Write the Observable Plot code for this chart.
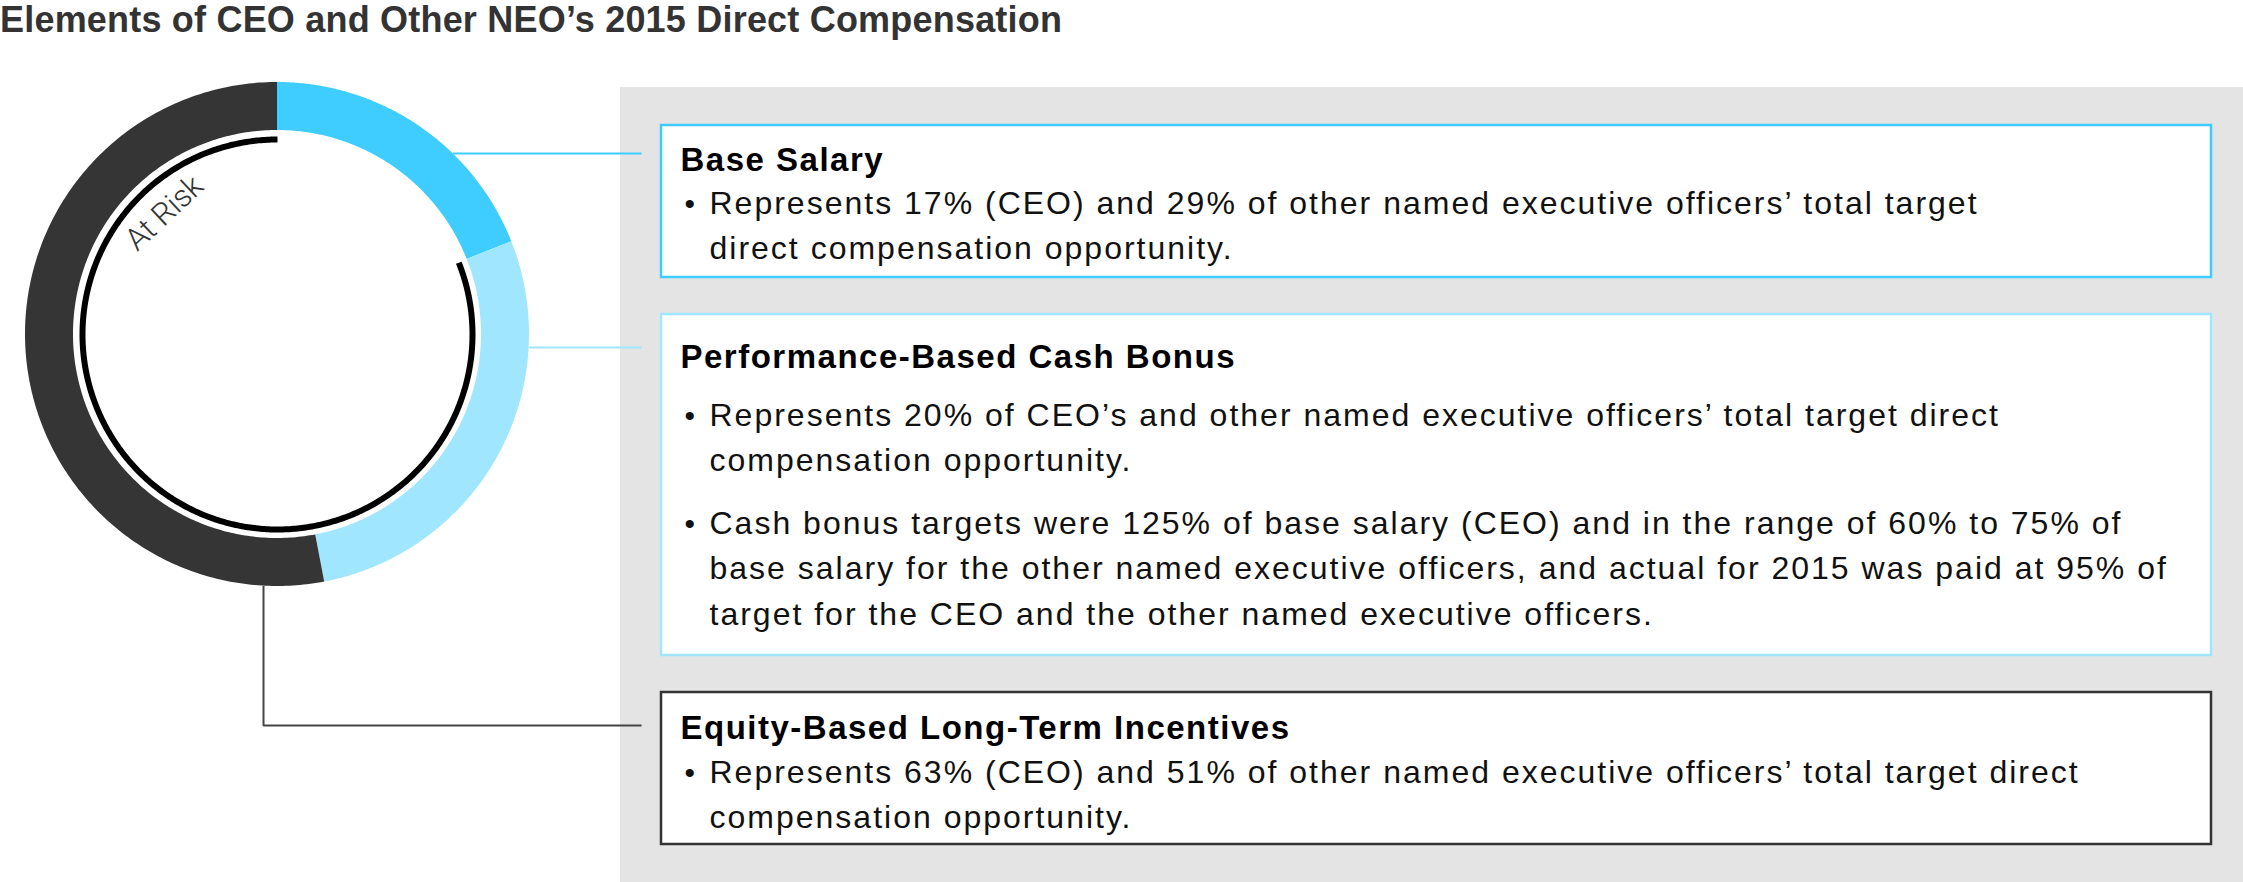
<!DOCTYPE html>
<html><head><meta charset="utf-8">
<script src="https://cdn.jsdelivr.net/npm/d3@7"></script>
<script src="https://cdn.jsdelivr.net/npm/@observablehq/plot@0.6"></script>
<style>
body{margin:0;background:#fff;}
#wrap{position:relative;width:2243px;height:882px;overflow:hidden;background:#fff;}
#title{position:absolute;left:0;top:0;font-family:"Liberation Sans",Arial,sans-serif;font-weight:bold;font-size:36px;letter-spacing:0.2px;line-height:40px;color:#333;white-space:nowrap;}
#chart{position:absolute;left:0;top:50px;}
</style></head><body>
<div id="wrap">
  <div id="title">Elements of CEO and Other NEO’s 2015 Direct Compensation</div>
  <div id="chart"></div>
</div>
<script>
// ---- data ----
const components = ["Base Salary", "Performance-Based Cash Bonus", "Equity-Based Long-Term Incentives"];
const shares = [19, 28, 53];             // share of the ring (%)
const atRisk = [false, true, true];
const segmentColors = ["#3fcdff", "#a0e6ff", "#353535"];
const ringLabel = "At Risk";
const bulletLines = [
  [["Represents 17% (CEO) and 29% of other named executive officers’ total target",
    "direct compensation opportunity."]],
  [["Represents 20% of CEO’s and other named executive officers’ total target direct",
    "compensation opportunity."],
   ["Cash bonus targets were 125% of base salary (CEO) and in the range of 60% to 75% of",
    "base salary for the other named executive officers, and actual for 2015 was paid at 95% of",
    "target for the CEO and the other named executive officers."]],
  [["Represents 63% (CEO) and 51% of other named executive officers’ total target direct",
    "compensation opportunity."]]
];

// ---- layout ----
const W = 2243, H = 882, TOP = 50;
const C = {x: 277, y: 334};
const R_OUT = 252, R_IN = 204, R_RISK = 195;
const panel = {x1: 620, x2: W, y1: 87, y2: H};
const boxX1 = 661, boxX2 = 2211, titleX = 680, bulletX = 684, textX = 709, lineStep = 45.5;
const boxLayout = [
  {y1: 125, y2: 277, title: 170, bullets: [213], stroke: "#3fcdff", conn: 153},
  {y1: 314, y2: 655, title: 367, bullets: [425, 533], stroke: "#a0e6ff", conn: 347},
  {y1: 692, y2: 844, title: 738, bullets: [782], stroke: "#333333", conn: 725}
];
const connEndX = 641;

// ---- derived geometry ----
const total = d3.sum(shares);
const cum = d3.cumsum(shares);
const segs = components.map((c, i) => ({
  c, a0: (i ? cum[i - 1] : 0) / total * 2 * Math.PI, a1: cum[i] / total * 2 * Math.PI
}));
const N = 240;
const ringPts = segs.flatMap(s => d3.range(N + 1).map(k => {
  const a = s.a0 + (s.a1 - s.a0) * k / N;
  return {c: s.c,
    xo: C.x + R_OUT * Math.sin(a), yo: C.y - R_OUT * Math.cos(a),
    xi: C.x + R_IN * Math.sin(a), yi: C.y - R_IN * Math.cos(a)};
}));
const riskStart = segs.find((s, i) => atRisk[i]).a0;
const riskEnd = d3.max(segs.filter((s, i) => atRisk[i]), s => s.a1);
const riskPts = d3.range(N * 2 + 1).map(k => {
  const a = riskStart + (riskEnd - riskStart) * k / (N * 2);
  return {x: C.x + R_RISK * Math.sin(a), y: C.y - R_RISK * Math.cos(a)};
});
const labelAngle = -43, labelR = 156;
const labelPos = {
  x: C.x + labelR * Math.sin(labelAngle * Math.PI / 180),
  y: C.y - labelR * Math.cos(labelAngle * Math.PI / 180)
};

// connectors
const connectors = [];
[0, 1].forEach(i => {
  const y = boxLayout[i].conn;
  const x0 = C.x + Math.sqrt(R_OUT * R_OUT - (C.y - y) ** 2);
  connectors.push({i, pts: [{x: x0, y}, {x: connEndX, y}], stroke: segmentColors[i]});
});
{
  const vx = 263;
  const y0 = C.y + Math.sqrt(R_OUT * R_OUT - (vx - C.x) ** 2);
  const y = boxLayout[2].conn;
  connectors.push({i: 2, pts: [{x: vx, y: y0}, {x: vx, y}, {x: connEndX, y}], stroke: "#444444"});
}

// text rows
const titleRows = components.map((t, i) => ({text: t, x: titleX, y: boxLayout[i].title}));
const bulletRows = [];
const lineRows = [];
bulletLines.forEach((bl, i) => bl.forEach((lines, j) => {
  const y0 = boxLayout[i].bullets[j];
  bulletRows.push({x: bulletX, y: y0});
  lines.forEach((t, k) => lineRows.push({text: t, x: textX, y: y0 + k * lineStep}));
}));

const FONT = "Liberation Sans, Arial, Helvetica, sans-serif";

const marks = [
  Plot.rect([panel], {x1: "x1", x2: "x2", y1: "y1", y2: "y2", fill: "#e4e4e4"}),
  ...connectors.map(c => Plot.line(c.pts, {x: "x", y: "y", stroke: c.stroke, strokeWidth: 2, strokeLinecap: "butt", strokeLinejoin: "miter"})),
  ...boxLayout.map(b => Plot.rect([b], {x1: () => boxX1, x2: () => boxX2, y1: "y1", y2: "y2", fill: "#ffffff", stroke: b.stroke, strokeWidth: 2.5})),
  Plot.area(ringPts, {x1: "xo", y1: "yo", x2: "xi", y2: "yi", z: "c", fill: "c"}),
  Plot.line(riskPts, {x: "x", y: "y", stroke: "#000", strokeWidth: 6, strokeLinecap: "butt"}),
  Plot.text([ringLabel], {x: () => labelPos.x, y: () => labelPos.y, text: d => d, rotate: labelAngle,
    textAnchor: "middle", lineAnchor: "bottom", fontSize: 31, fontFamily: "Roboto, " + FONT, fontWeight: 300, fill: "#333"}),
  Plot.text(titleRows, {x: "x", y: "y", text: "text", textAnchor: "start", lineAnchor: "bottom",
    fontSize: 33, fontWeight: "bold", fontFamily: FONT, fill: "#000"}),
  Plot.text(bulletRows, {x: "x", y: "y", text: () => "•", textAnchor: "start", lineAnchor: "bottom",
    fontSize: 30, fontFamily: FONT, fill: "#111"}),
  Plot.text(lineRows, {x: "x", y: "y", text: "text", textAnchor: "start", lineAnchor: "bottom",
    fontSize: 32, fontFamily: FONT, fill: "#111"})
];

const svg = Plot.plot({
  width: W, height: H - TOP,
  marginTop: 0, marginRight: 0, marginBottom: 0, marginLeft: 0,
  x: {domain: [0, W], range: [0, W], axis: null},
  y: {domain: [TOP, H], range: [0, H - TOP], axis: null},
  color: {domain: components, range: segmentColors},
  style: {background: "transparent", overflow: "visible"},
  marks
});
svg.querySelectorAll('g[font-size="32"]').forEach(g => g.style.letterSpacing = "2px");
svg.querySelectorAll('g[font-size="33"]').forEach(g => g.style.letterSpacing = "1.5px");
svg.querySelectorAll('g[font-size="31"]').forEach(g => g.style.letterSpacing = "-0.2px");
document.getElementById("chart").appendChild(svg);
</script>
</body></html>
